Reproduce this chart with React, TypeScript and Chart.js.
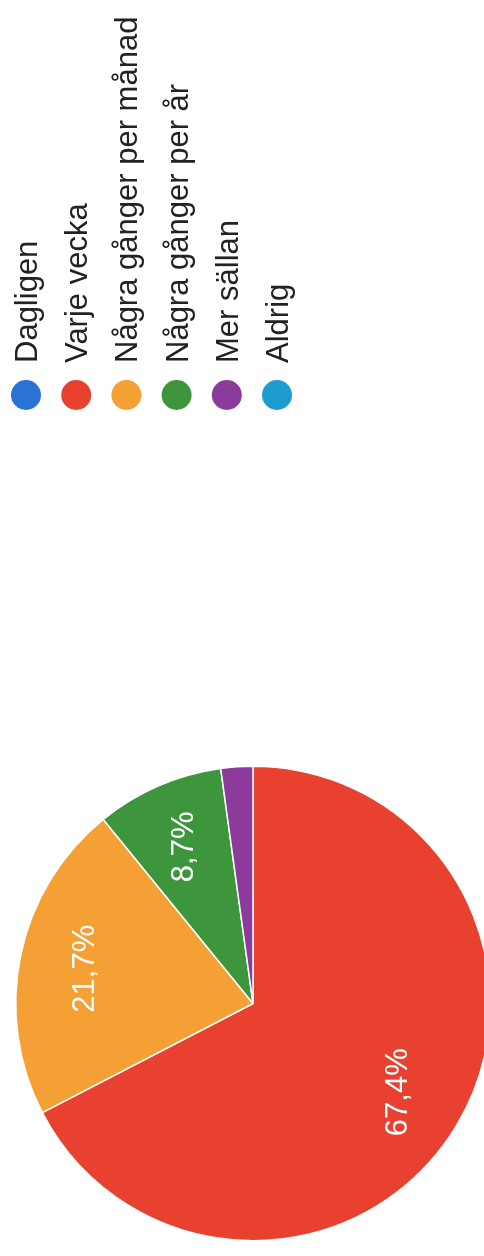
import { useEffect, useRef } from "react";
import { Chart, PieController, ArcElement } from "chart.js";

Chart.register(PieController, ArcElement);

const categories = [
  "Dagligen",
  "Varje vecka",
  "Några gånger per månad",
  "Några gånger per år",
  "Mer sällan",
  "Aldrig",
];
const responses = [0, 31, 10, 4, 1, 0];
const sliceColors = ["#2a73d2", "#e8412f", "#f5a035", "#3e963c", "#8c3a9c", "#1c9ccf"];

const FONT = '"Liberation Sans", Arial, Helvetica, sans-serif';

const overlayPlugin = {
  id: "rotatedOverlay",
  afterDatasetsDraw(chart: any) {
    const ctx = chart.ctx as CanvasRenderingContext2D;
    const meta = chart.getDatasetMeta(0);
    const total = responses.reduce((a, b) => a + b, 0);
    meta.data.forEach((arc: any, i: number) => {
      const pct = (responses[i] / total) * 100;
      if (pct < 5) return;
      const { x, y, startAngle, endAngle, outerRadius } = arc.getProps(
        ["x", "y", "startAngle", "endAngle", "outerRadius"],
        true
      );
      const mid = (startAngle + endAngle) / 2;
      const r = outerRadius * 0.72;
      const label = pct.toFixed(1).replace(".", ",") + "%";
      ctx.save();
      ctx.translate(x + Math.cos(mid) * r, y + Math.sin(mid) * r);
      ctx.rotate(-Math.PI / 2);
      ctx.font = `31px ${FONT}`;
      ctx.fillStyle = "#ffffff";
      ctx.textAlign = "center";
      ctx.textBaseline = "middle";
      ctx.fillText(label, 0, 0);
      ctx.restore();
    });
  },
  afterDraw(chart: any) {
    const ctx = chart.ctx as CanvasRenderingContext2D;
    const labels: string[] = chart.data.labels;
    const colors: string[] = chart.data.datasets[0].backgroundColor;
    const startX = 26;
    const step = 50.2;
    const dotY = 395;
    const dotR = 15;
    labels.forEach((text, i) => {
      const cx = startX + step * i;
      ctx.save();
      ctx.beginPath();
      ctx.arc(cx, dotY, dotR, 0, Math.PI * 2);
      ctx.fillStyle = colors[i];
      ctx.fill();
      ctx.translate(cx + 11, dotY - 32);
      ctx.rotate(-Math.PI / 2);
      ctx.font = `31px ${FONT}`;
      ctx.fillStyle = "#222222";
      ctx.textAlign = "left";
      ctx.textBaseline = "alphabetic";
      ctx.fillText(text, 0, 0);
      ctx.restore();
    });
  },
};

export default function App() {
  const canvasRef = useRef<HTMLCanvasElement | null>(null);

  useEffect(() => {
    if (!canvasRef.current) return;
    const chart = new Chart(canvasRef.current, {
      type: "pie",
      data: {
        labels: categories,
        datasets: [
          {
            data: responses,
            backgroundColor: sliceColors,
            borderColor: "#ffffff",
            borderWidth: 1.5,
            hoverOffset: 0,
          },
        ],
      },
      options: {
        animation: false,
        responsive: true,
        maintainAspectRatio: false,
        rotation: 0,
        layout: { padding: { left: 15, right: -7, top: 765, bottom: 14 } },
        plugins: {
          legend: { display: false },
          tooltip: { enabled: false },
        },
        events: [],
      },
      plugins: [overlayPlugin],
    });
    return () => chart.destroy();
  }, []);

  return (
    <div
      style={{
        position: "fixed",
        left: 0,
        top: 0,
        width: 484,
        height: 1256,
        background: "#ffffff",
      }}
    >
      <canvas ref={canvasRef} />
    </div>
  );
}
